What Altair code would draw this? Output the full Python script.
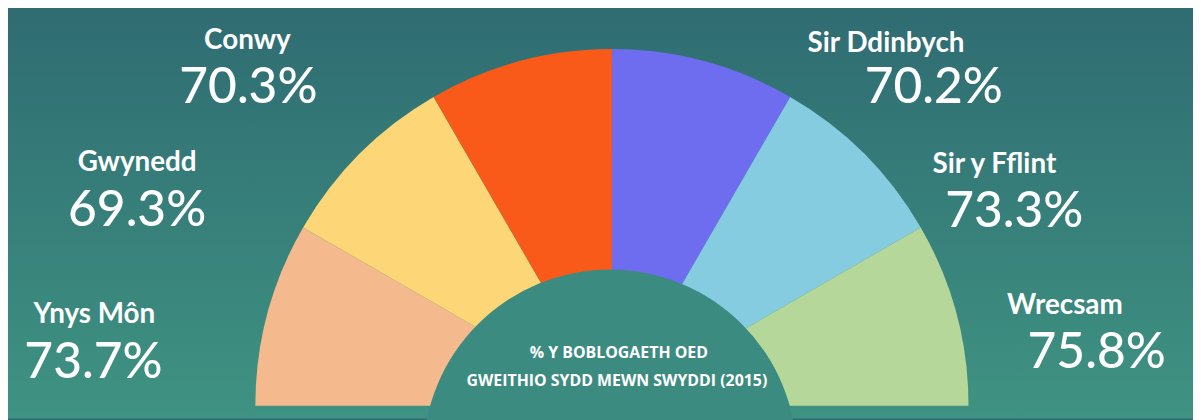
import math
import altair as alt
import pandas as pd

# ---- data ----
regions = ["Ynys Môn", "Gwynedd", "Conwy", "Sir Ddinbych", "Sir y Fflint", "Wrecsam"]
values = [73.7, 69.3, 70.3, 70.2, 73.3, 75.8]
colors = ["#F4B98C", "#FDD677", "#F95A1A", "#6E6CEF", "#86CCE0", "#B5D89A"]
center_lines = ["% Y BOBLOGAETH OED", "GWEITHIO SYDD MEWN SWYDDI (2015)"]

# ---- layout (page pixel coords, converted to chart coords) ----
W, H = 1193, 412
OFF = 8
name_x = [95, 138, 249, 892, 1001, 1072]
name_y = [324, 171, 48, 51, 173, 315]
num_x = [94, 138, 250, 940, 1021, 1104]
num_y = [379, 226, 102, 102, 227, 369]
cx, cy, R = 616, 407, 359
hole_x, hole_y, hole_r = 614, 458, 188

df = pd.DataFrame({
    "region": regions,
    "value": values,
    "order": list(range(len(regions))),
    "share": [1] * len(regions),
    "label": [f"{v:.1f}%" for v in values],
    "nx": [x - OFF for x in name_x],
    "ny": [y - OFF for y in name_y],
    "vx": [x - OFF for x in num_x],
    "vy": [y - OFF for y in num_y],
})

bg = alt.Chart(pd.DataFrame({"a": [0]})).mark_rect(
    color={
        "gradient": "linear",
        "x1": 0, "y1": 0, "x2": 0, "y2": 1,
        "stops": [
            {"offset": 0, "color": "#2F6C72"},
            {"offset": 1, "color": "#3F9382"},
        ],
    }
).encode(
    x=alt.value(0), x2=alt.value(W), y=alt.value(0), y2=alt.value(H)
)

arcs = alt.Chart(df).mark_arc(radius=R, stroke=None).encode(
    theta=alt.Theta("share:Q", stack=True, scale=alt.Scale(range=[-math.pi / 2, math.pi / 2])),
    order=alt.Order("order:Q"),
    color=alt.Color("region:N", scale=alt.Scale(domain=regions, range=colors), legend=None),
    x=alt.value(cx - OFF),
    y=alt.value(cy - OFF),
)

hole = alt.Chart(pd.DataFrame({"a": [0]})).mark_arc(
    radius=hole_r, theta=0, theta2=2 * math.pi, color="#3C8B80"
).encode(x=alt.value(hole_x - OFF), y=alt.value(hole_y - OFF))

names = alt.Chart(df).mark_text(
    font="Lato", fontWeight="bold", fontSize=28, color="white", align="center", baseline="alphabetic"
).encode(
    x=alt.X("nx:Q", scale=None, axis=None),
    y=alt.Y("ny:Q", scale=None, axis=None),
    text="region:N",
)

nums = alt.Chart(df).mark_text(
    font="Lato", fontWeight=500, fontSize=50, color="white", align="center", baseline="alphabetic"
).encode(
    x=alt.X("vx:Q", scale=None, axis=None),
    y=alt.Y("vy:Q", scale=None, axis=None),
    text="label:N",
)

cdf = pd.DataFrame({"t": center_lines, "x": [623 - OFF, 621 - OFF], "y": [359 - OFF, 387 - OFF]})
ctext = alt.Chart(cdf).mark_text(
    font="Open Sans", fontWeight="bold", fontSize=16, color="white", align="center", baseline="alphabetic"
).encode(
    x=alt.X("x:Q", scale=None, axis=None),
    y=alt.Y("y:Q", scale=None, axis=None),
    text="t:N",
)

chart = alt.layer(bg, arcs, hole, names, nums, ctext).properties(
    width=W, height=H, padding=0, autosize=alt.AutoSizeParams(type="none"),
    background="#2F6C72",
).configure_view(stroke=None)

chart.save("out.html", embed_options={"renderer": "svg", "actions": False})
